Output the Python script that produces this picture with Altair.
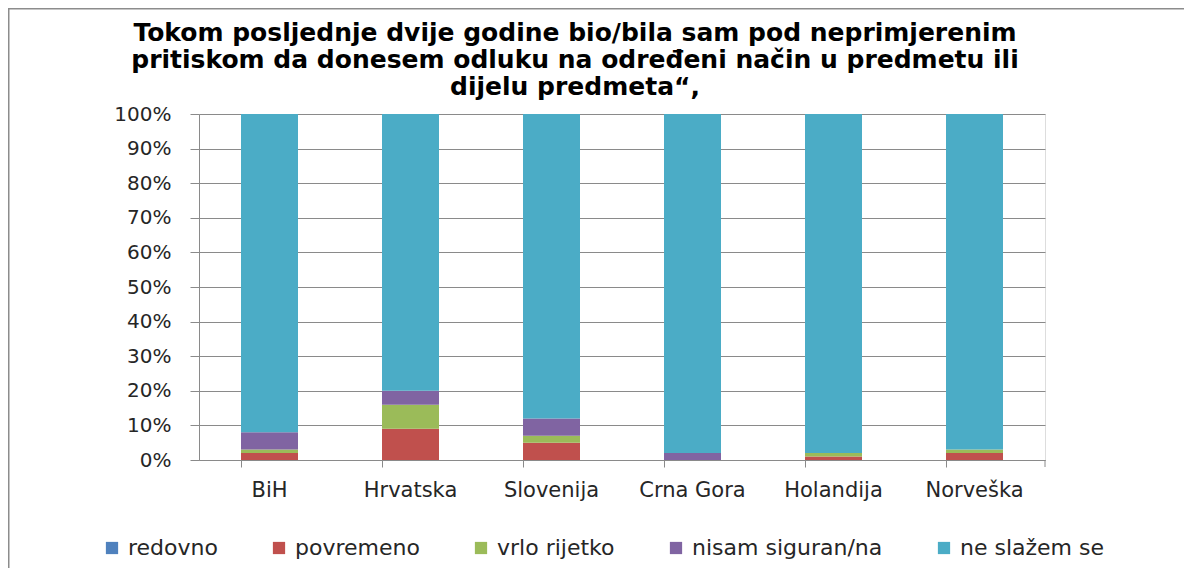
import altair as alt
import pandas as pd

countries = ["BiH", "Hrvatska", "Slovenija", "Crna Gora", "Holandija", "Norveška"]
series = ["redovno", "povremeno", "vrlo rijetko", "nisam siguran/na", "ne slažem se"]
redovno = [0, 0, 0, 0, 0, 0]
povremeno = [2, 9, 5, 0, 1, 2]
vrlo_rijetko = [1, 7, 2, 0, 1, 1]
nisam = [5, 4, 5, 2, 0, 0]
ne_slazem = [92, 80, 88, 98, 98, 97]
colors = ["#4F81BD", "#C0504D", "#9BBB59", "#8064A2", "#4BACC6"]
title_lines = [
    "Tokom posljednje dvije godine bio/bila sam pod neprimjerenim",
    "pritiskom da donesem odluku na određeni način u predmetu ili",
    "dijelu predmeta“,",
]

vals = [redovno, povremeno, vrlo_rijetko, nisam, ne_slazem]
rows = []
for si, s in enumerate(series):
    for ci, c in enumerate(countries):
        rows.append({"country": c, "series": s, "order": si, "value": vals[si][ci] / 100})
df = pd.DataFrame(rows)

W, H = 846, 346
PL, PT, PR, PB = 191, 106, 139, 108
GRID = "#8a8a8a"
TXT = "#262626"
FONT = "DejaVu Sans"

bars = alt.Chart(df).mark_bar(size=57).encode(
    x=alt.X("country:N", sort=countries, title=None,
            scale=alt.Scale(paddingInner=0.6, paddingOuter=0.3),
            axis=alt.Axis(bandPosition=0, labelAngle=0, labelFontSize=21, labelFont=FONT,
                          labelColor=TXT, labelPadding=12, tickSize=7, tickColor=GRID,
                          domainColor=GRID, domainWidth=1, grid=False)),
    y=alt.Y("value:Q", stack="zero", title=None,
            scale=alt.Scale(domain=[0, 1], nice=False),
            axis=alt.Axis(format=".0%", values=[i / 10 for i in range(11)],
                          labelFontSize=20, labelFont=FONT, labelColor=TXT,
                          labelPadding=19, tickSize=9, tickColor=GRID,
                          domainColor=GRID, gridColor=GRID, gridWidth=1)),
    color=alt.Color("series:N", sort=series,
                    scale=alt.Scale(domain=series, range=colors),
                    legend=alt.Legend(title=None, orient="none", legendX=-98, legendY=423,
                                      direction="horizontal", columns=5,
                                      symbolType="square", symbolSize=150,
                                      symbolStrokeWidth=0, labelFontSize=22,
                                      labelFont=FONT, labelColor=TXT, labelOffset=5,
                                      labelLimit=0, columnPadding=50)),
    order=alt.Order("order:Q", sort="ascending"),
)

end_tick = alt.Chart(alt.Data(values=[{}])).mark_rule(color=GRID, strokeWidth=1).encode(
    x=alt.value(W), y=alt.value(H), y2=alt.value(H + 7)
)

frame = alt.Chart(alt.Data(values=[{}])).mark_rect(
    fill="transparent", stroke="#8c8c8c", strokeWidth=3
).encode(
    x=alt.value(-191), x2=alt.value(W + PR + 30),
    y=alt.value(-106), y2=alt.value(H + PB + 30),
)

chart = alt.layer(frame, bars, end_tick).properties(
    width=W, height=H,
    autosize=alt.AutoSizeParams(type="none"),
    padding={"left": PL, "top": PT, "right": PR, "bottom": PB},
    title=alt.TitleParams(text=title_lines, fontSize=25, fontWeight="bold",
                          font="DejaVu Sans", color="#000000", anchor="middle",
                          baseline="top", dx=-47, offset=-93, lineHeight=27),
).configure_view(stroke=None).configure(background="white")

chart.save("out.html", embed_options={"renderer": "svg", "actions": False})
